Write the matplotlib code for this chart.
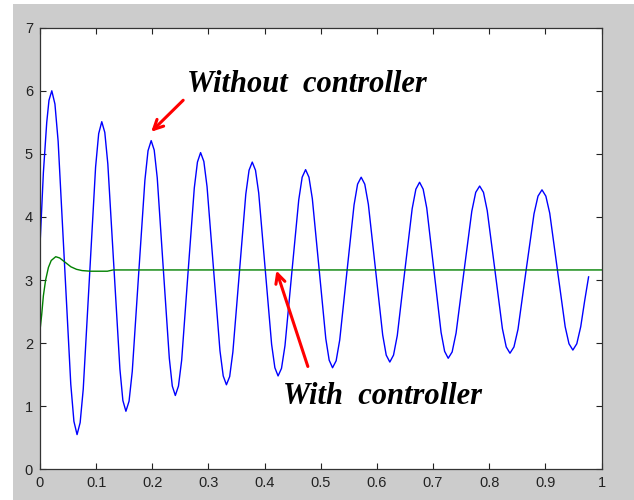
import matplotlib
matplotlib.use("Agg")
import matplotlib.pyplot as plt
from matplotlib.patches import Rectangle

# blue curve (without controller), one row per half swing
x_wo = [0.0, 0.006, 0.012, 0.016,
        0.021, 0.0266, 0.0323, 0.0435, 0.0548, 0.0604,
        0.066, 0.0715, 0.077, 0.088, 0.099, 0.1045,
        0.110, 0.1154, 0.1208, 0.1315, 0.1423, 0.1476,
        0.153, 0.1586, 0.1643, 0.1755, 0.1868, 0.1924,
        0.198, 0.2034, 0.2088, 0.2195, 0.2303, 0.2356,
        0.241, 0.2466, 0.2523, 0.2635, 0.2748, 0.2804,
        0.286, 0.2918, 0.2975, 0.309, 0.3205, 0.3263,
        0.332, 0.3378, 0.3435, 0.355, 0.3665, 0.3723,
        0.378, 0.3838, 0.3895, 0.401, 0.4125, 0.4183,
        0.424, 0.4301, 0.4363, 0.4485, 0.4608, 0.4669,
        0.473, 0.479, 0.485, 0.497, 0.509, 0.515,
        0.521, 0.5274, 0.5338, 0.5465, 0.5593, 0.5656,
        0.572, 0.5784, 0.5848, 0.5975, 0.6103, 0.6166,
        0.623, 0.6296, 0.6363, 0.6495, 0.6628, 0.6694,
        0.676, 0.6824, 0.6888, 0.7015, 0.7143, 0.7206,
        0.727, 0.734, 0.741, 0.755, 0.769, 0.776,
        0.783, 0.7898, 0.7965, 0.810, 0.8235, 0.8303,
        0.837, 0.8441, 0.8513, 0.8655, 0.8798, 0.8869,
        0.894, 0.9009, 0.9078, 0.9215, 0.9353, 0.9421,
        0.949, 0.956, 0.963, 0.970, 0.977]
y_wo = [3.55, 4.70, 5.50, 5.85,
        6.00, 5.79, 5.20, 3.28, 1.35, 0.76,
        0.55, 0.74, 1.27, 3.03, 4.79, 5.32,
        5.51, 5.34, 4.84, 3.22, 1.59, 1.09,
        0.92, 1.08, 1.55, 3.07, 4.58, 5.05,
        5.21, 5.06, 4.62, 3.19, 1.76, 1.32,
        1.17, 1.32, 1.73, 3.10, 4.46, 4.87,
        5.02, 4.88, 4.48, 3.18, 1.88, 1.48,
        1.34, 1.47, 1.86, 3.11, 4.36, 4.74,
        4.87, 4.74, 4.38, 3.18, 1.98, 1.61,
        1.48, 1.60, 1.96, 3.12, 4.27, 4.63,
        4.75, 4.63, 4.29, 3.18, 2.07, 1.73,
        1.61, 1.72, 2.05, 3.12, 4.19, 4.52,
        4.63, 4.52, 4.20, 3.17, 2.13, 1.81,
        1.70, 1.81, 2.12, 3.13, 4.13, 4.44,
        4.55, 4.44, 4.14, 3.16, 2.17, 1.87,
        1.76, 1.86, 2.16, 3.13, 4.09, 4.39,
        4.49, 4.39, 4.10, 3.17, 2.23, 1.94,
        1.84, 1.94, 2.22, 3.14, 4.05, 4.33,
        4.43, 4.33, 4.06, 3.16, 2.26, 1.99,
        1.89, 1.99, 2.26, 2.67, 3.05]

# green curve (with controller)
x_w = [0.0, 0.003, 0.006, 0.010, 0.015, 0.020, 0.028, 0.035, 0.045,
       0.055, 0.065, 0.075, 0.090, 0.120, 0.130, 1.0]
y_w = [2.20, 2.45, 2.75, 3.00, 3.20, 3.31, 3.37, 3.35, 3.28,
       3.21, 3.17, 3.15, 3.14, 3.14, 3.16, 3.16]

xticks = [0, 0.1, 0.2, 0.3, 0.4, 0.5, 0.6, 0.7, 0.8, 0.9, 1]
xticklabels = ['0', '0.1', '0.2', '0.3', '0.4', '0.5', '0.6', '0.7', '0.8', '0.9', '1']
yticks = [0, 1, 2, 3, 4, 5, 6, 7]

fig = plt.figure(figsize=(6.34, 5.0), dpi=100, facecolor='white')
# matlab grey window area
fig.add_artist(Rectangle((13/634, 0), 1, 1 - 4/500, transform=fig.transFigure,
                         facecolor='#cccccc', edgecolor='none', zorder=-10))
ax = fig.add_axes([40/634, 1 - 469.3/500, 561.5/634, 441.6/500])
ax.set_zorder(1)
ax.set_facecolor('white')

ax.plot(x_wo, y_wo, color='#0000ff', lw=1.0)
ax.plot(x_w, y_w, color='#008000', lw=1.0)

ax.set_xlim(0, 1)
ax.set_ylim(0, 7)
ax.set_xticks(xticks)
ax.set_xticklabels(xticklabels)
ax.set_yticks(yticks)
ax.tick_params(direction='in', length=4, width=0.8, top=True, right=True,
               labelsize=10.5, colors='#222222', pad=5)
for t in ax.get_xticklabels() + ax.get_yticklabels():
    t.set_family('Liberation Sans')
for s in ax.spines.values():
    s.set_color('#333333')
    s.set_linewidth(0.9)

tfont = dict(family='Liberation Serif', weight='bold', style='italic', size=22)
ax.text(0.475, 6.10, 'Without  controller', ha='center', va='center', **tfont)
ax.text(0.61, 1.15, 'With  controller', ha='center', va='center', **tfont)

arrow = dict(arrowstyle='->', color='red', lw=2.2, mutation_scale=17,
             shrinkA=0, shrinkB=0)
ax.annotate('', xy=(0.198, 5.35), xytext=(0.255, 5.85), arrowprops=arrow)
ax.annotate('', xy=(0.421, 3.15), xytext=(0.477, 1.63), arrowprops=arrow)

fig.savefig('out.png', dpi=100, facecolor=fig.get_facecolor())
